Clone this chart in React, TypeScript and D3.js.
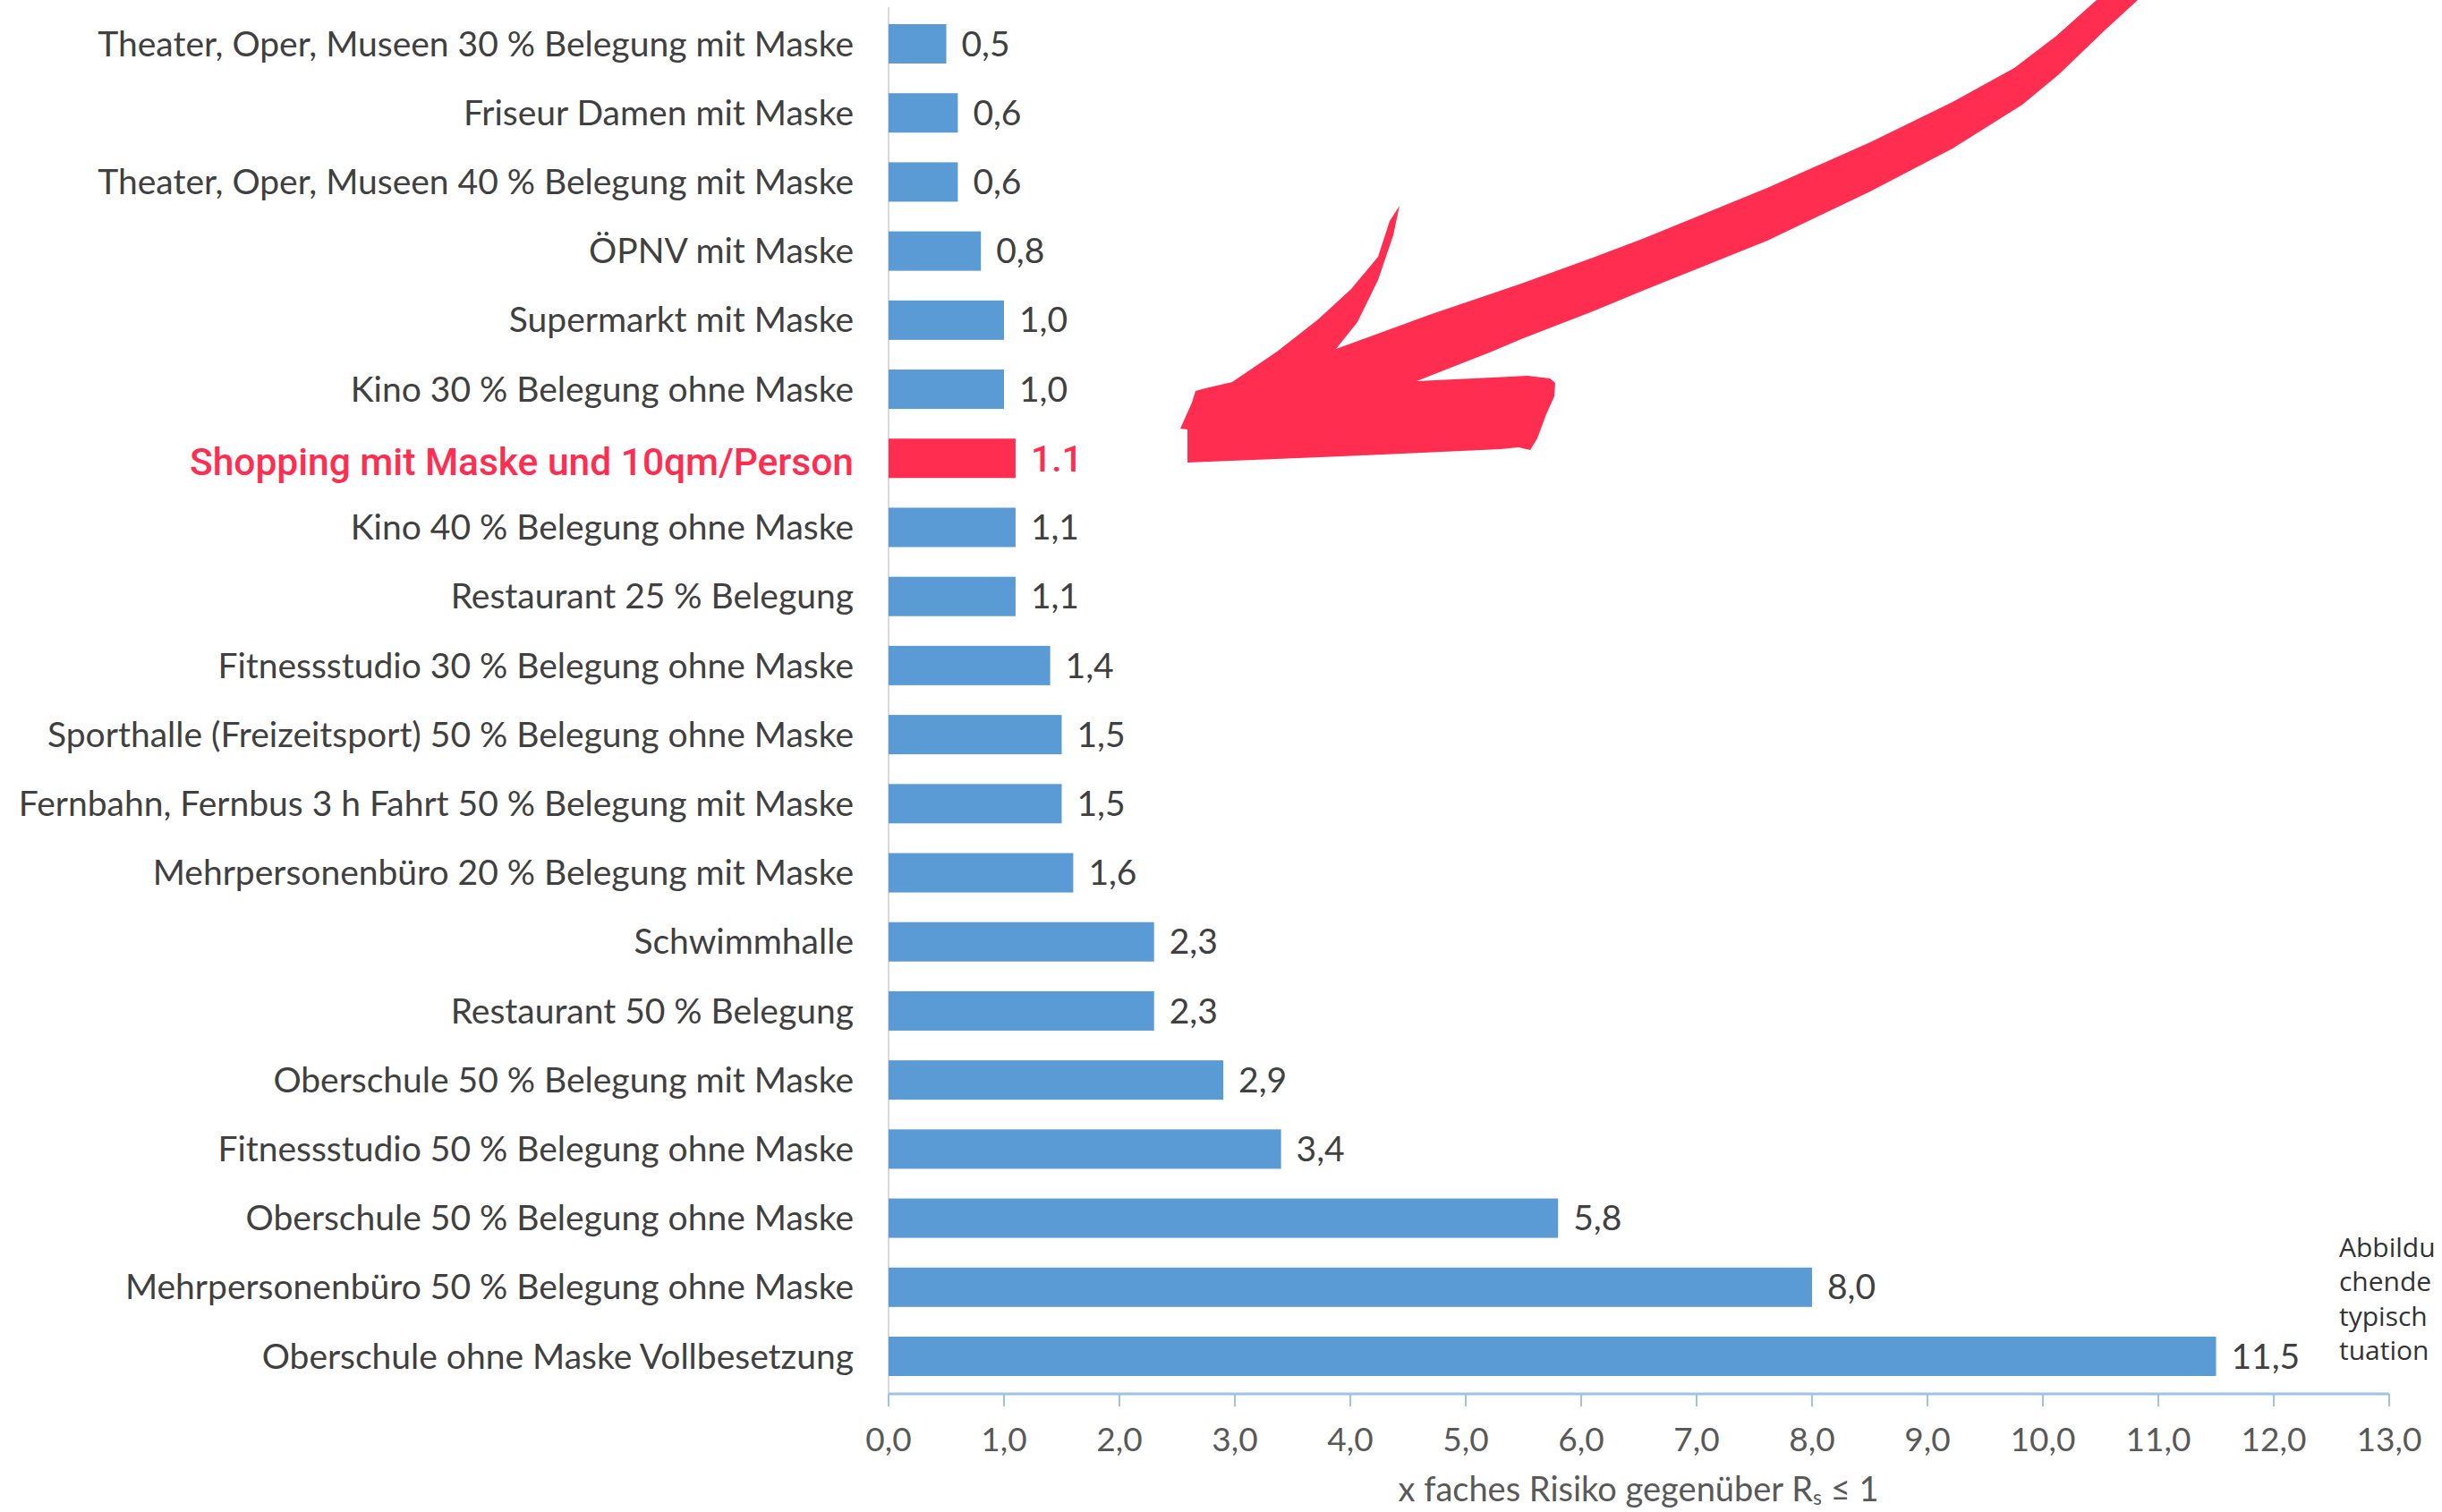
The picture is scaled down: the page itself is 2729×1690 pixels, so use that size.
import React from "react";
import * as d3 from "d3";

const categories = [
  "Theater, Oper, Museen 30 % Belegung mit Maske",
  "Friseur Damen mit Maske",
  "Theater, Oper, Museen 40 % Belegung mit Maske",
  "ÖPNV mit Maske",
  "Supermarkt mit Maske",
  "Kino 30 % Belegung ohne Maske",
  "Shopping mit Maske und 10qm/Person",
  "Kino 40 % Belegung ohne Maske",
  "Restaurant 25 % Belegung",
  "Fitnessstudio 30 % Belegung ohne Maske",
  "Sporthalle  (Freizeitsport) 50 % Belegung ohne Maske",
  "Fernbahn, Fernbus 3 h Fahrt 50 % Belegung mit Maske",
  "Mehrpersonenbüro 20 % Belegung mit Maske",
  "Schwimmhalle",
  "Restaurant 50 % Belegung",
  "Oberschule 50 % Belegung mit Maske",
  "Fitnessstudio 50 % Belegung ohne Maske",
  "Oberschule 50 % Belegung ohne Maske",
  "Mehrpersonenbüro 50 % Belegung ohne Maske",
  "Oberschule ohne Maske Vollbesetzung",
];
const values = [0.5, 0.6, 0.6, 0.8, 1.0, 1.0, 1.1, 1.1, 1.1, 1.4, 1.5, 1.5, 1.6, 2.3, 2.3, 2.9, 3.4, 5.8, 8.0, 11.5];
const highlighted = "Shopping mit Maske und 10qm/Person";
const xTicks = d3.range(0, 14);
const sideNote = ["Abbildu", "chende", "typisch", "tuation"];

const BLUE = "#5b9bd5";
const RED = "#ff2d50";
const TEXT = "#404040";
const FONT = "Lato, 'Open Sans', sans-serif";

// hand drawn arrow pointing at the highlighted row (decoration)
const arrowPts: [number, number][] = [
  [2343, 0], [2297, 41], [2251, 76], [2182, 114], [2090, 159], [1975, 210],
  [1838, 266], [1780, 288], [1700, 317], [1597, 352], [1493, 390],
  [1517, 360], [1540, 313], [1557, 263], [1564, 230],
  [1553, 247], [1540, 287], [1510, 323], [1473, 357], [1427, 393], [1377, 427],
  [1347, 434], [1336, 437], [1332, 450], [1319, 479], [1327, 480], [1327, 517],
  [1500, 510], [1677, 502], [1697, 500], [1710, 503], [1718, 490], [1728, 463],
  [1737, 443], [1738, 428], [1732, 423], [1707, 420], [1667, 422], [1583, 426],
  [1667, 393], [1700, 379], [1780, 348], [1838, 324], [1975, 269], [2090, 214],
  [2182, 166], [2260, 117], [2301, 83], [2352, 34], [2389, 0],
];

const comma = (v: number) => d3.format(".1f")(v).replace(".", ",");

export default function App() {
  const width = 2729;
  const height = 1690;
  const x = d3.scaleLinear().domain([0, 13]).range([993, 2670]);
  const y = d3
    .scaleBand()
    .domain(categories)
    .range([10.4, 1554.6])
    .paddingInner(0.43)
    .paddingOuter(0.215);
  const axisY = 1558;
  const arrow = d3.line()(arrowPts) + "Z";

  return (
    <svg
      width={width}
      height={height}
      style={{ position: "absolute", left: 0, top: 0, background: "#fff" }}
    >
      <line x1={x(0)} x2={x(0)} y1={8} y2={axisY} stroke="#d9d9d9" strokeWidth={2} />

      {categories.map((c, i) => {
        const hi = c === highlighted;
        const cy = (y(c) as number) + y.bandwidth() / 2;
        return (
          <g key={c}>
            <rect
              x={x(0)}
              y={y(c)}
              width={x(values[i]) - x(0)}
              height={y.bandwidth()}
              fill={hi ? RED : BLUE}
            />
            <text
              x={954}
              y={cy + (hi ? 4 : 0)}
              dy="0.35em"
              textAnchor="end"
              fontFamily={hi ? "Roboto, sans-serif" : FONT}
              fontSize={hi ? 42.5 : 39}
              fontWeight={hi ? 500 : 400}
              fill={hi ? RED : TEXT}
            >
              {c}
            </text>
            <text
              x={x(values[i]) + 17}
              y={cy}
              dy="0.35em"
              fontFamily={hi ? "Roboto, sans-serif" : FONT}
              fontSize={hi ? 41 : 39}
              fontWeight={hi ? 500 : 400}
              fill={hi ? RED : TEXT}
            >
              {hi ? d3.format(".1f")(values[i]) : comma(values[i])}
            </text>
          </g>
        );
      })}

      <g>
        <line x1={x(0)} x2={x(13)} y1={axisY} y2={axisY} stroke="#9dc3e6" strokeWidth={3} />
        {xTicks.map((t) => (
          <g key={t}>
            <line x1={x(t)} x2={x(t)} y1={axisY} y2={axisY + 14} stroke="#9dc3e6" strokeWidth={2} />
            <text
              x={x(t)}
              y={1622}
              textAnchor="middle"
              fontFamily={FONT}
              fontSize={37}
              fill="#595959"
            >
              {comma(t)}
            </text>
          </g>
        ))}
        <text x={1831} y={1678} textAnchor="middle" fontFamily={FONT} fontSize={38} fill="#595959">
          x faches Risiko gegenüber R
          <tspan fontSize={23} dy={4}>s</tspan>
          <tspan dy={-4}> ≤ 1</tspan>
        </text>
      </g>

      <path d={arrow} fill={RED} />

      {sideNote.map((s, i) => (
        <text
          key={s}
          x={2614}
          y={1405 + i * 38.3}
          fontFamily="'Open Sans', sans-serif"
          fontSize={30}
          fill="#333"
        >
          {s}
        </text>
      ))}
    </svg>
  );
}
